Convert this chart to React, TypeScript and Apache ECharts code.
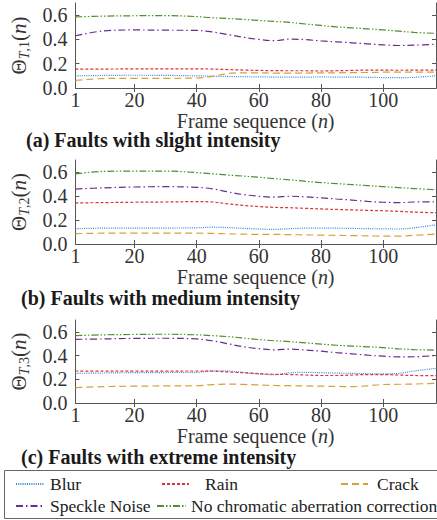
import React, { useEffect, useRef } from "react";
import * as echarts from "echarts";

const frames = [1, 10, 20, 30, 40, 45, 50, 55, 60, 65, 70, 75, 80, 85, 90, 95, 100, 105, 110, 117];

const seriesNames = ["Blur", "Rain", "Crack", "Speckle Noise", "No chromatic aberration correction"];

// (a) slight intensity
const blurA = [0.1, 0.103, 0.105, 0.104, 0.1, 0.097, 0.095, 0.093, 0.092, 0.09, 0.09, 0.09, 0.091, 0.09, 0.09, 0.088, 0.086, 0.085, 0.088, 0.1];
const rainA = [0.155, 0.156, 0.157, 0.157, 0.157, 0.156, 0.152, 0.148, 0.145, 0.143, 0.142, 0.142, 0.14, 0.142, 0.145, 0.147, 0.147, 0.146, 0.147, 0.148];
const crackA = [0.063, 0.078, 0.08, 0.08, 0.082, 0.095, 0.12, 0.125, 0.125, 0.123, 0.123, 0.123, 0.125, 0.125, 0.127, 0.128, 0.13, 0.13, 0.13, 0.13];
const speckleA = [0.43, 0.47, 0.478, 0.476, 0.474, 0.462, 0.44, 0.418, 0.4, 0.39, 0.403, 0.398, 0.388, 0.38, 0.372, 0.363, 0.355, 0.35, 0.353, 0.36];
const nocorrA = [0.585, 0.592, 0.595, 0.596, 0.588, 0.578, 0.572, 0.565, 0.556, 0.548, 0.54, 0.527, 0.515, 0.503, 0.495, 0.487, 0.478, 0.468, 0.458, 0.45];

// (b) medium intensity
const blurB = [0.128, 0.132, 0.133, 0.133, 0.135, 0.14, 0.137, 0.13, 0.125, 0.122, 0.128, 0.132, 0.133, 0.132, 0.13, 0.128, 0.126, 0.125, 0.135, 0.16];
const rainB = [0.342, 0.345, 0.348, 0.35, 0.353, 0.35, 0.335, 0.322, 0.312, 0.305, 0.302, 0.297, 0.292, 0.288, 0.284, 0.28, 0.277, 0.272, 0.266, 0.26];
const crackB = [0.086, 0.09, 0.09, 0.09, 0.09, 0.088, 0.085, 0.082, 0.08, 0.08, 0.078, 0.076, 0.074, 0.072, 0.07, 0.068, 0.066, 0.066, 0.072, 0.083];
const speckleB = [0.458, 0.468, 0.475, 0.478, 0.472, 0.46, 0.435, 0.412, 0.398, 0.39, 0.398, 0.393, 0.385, 0.375, 0.366, 0.355, 0.348, 0.345, 0.35, 0.352];
const nocorrB = [0.585, 0.605, 0.608, 0.608, 0.595, 0.585, 0.575, 0.566, 0.556, 0.545, 0.535, 0.522, 0.512, 0.503, 0.495, 0.487, 0.478, 0.47, 0.462, 0.452];

// (c) extreme intensity
const blurC = [0.25, 0.253, 0.256, 0.257, 0.258, 0.272, 0.27, 0.258, 0.245, 0.238, 0.255, 0.258, 0.256, 0.252, 0.25, 0.247, 0.245, 0.25, 0.27, 0.292];
const rainC = [0.27, 0.268, 0.268, 0.269, 0.27, 0.268, 0.262, 0.255, 0.248, 0.242, 0.24, 0.236, 0.232, 0.232, 0.236, 0.24, 0.24, 0.236, 0.232, 0.23];
const crackC = [0.13, 0.138, 0.142, 0.144, 0.146, 0.155, 0.16, 0.157, 0.152, 0.148, 0.146, 0.144, 0.142, 0.14, 0.138, 0.145, 0.156, 0.158, 0.16, 0.166];
const speckleC = [0.537, 0.54, 0.545, 0.546, 0.54, 0.525, 0.5, 0.475, 0.458, 0.448, 0.455, 0.447, 0.437, 0.425, 0.415, 0.403, 0.395, 0.389, 0.39, 0.4];
const nocorrC = [0.568, 0.575, 0.578, 0.58, 0.575, 0.568, 0.56, 0.548, 0.535, 0.525, 0.518, 0.507, 0.497, 0.487, 0.48, 0.474, 0.467, 0.457, 0.45, 0.446];

const panels = [
  [blurA, rainA, crackA, speckleA, nocorrA],
  [blurB, rainB, crackB, speckleB, nocorrB],
  [blurC, rainC, crackC, speckleC, nocorrC],
];
const panelTitles = [
  "(a) Faults with slight intensity",
  "(b) Faults with medium intensity",
  "(c) Faults with extreme intensity",
];
const panelIndex = ["1", "2", "3"];

const xLabelValues = [1, 20, 40, 60, 80, 100];
const xTickValues = [20, 40, 60, 80, 100];
const yLabelValues = [0, 0.2, 0.4, 0.6];
const yTickValues = [0.2, 0.4, 0.6];

const colors = ["#2f86d6", "#e0323a", "#d6a236", "#6a2c93", "#4f8f2e"];
const dashes: number[][] = [
  [1, 1.2],
  [3, 2],
  [7, 4],
  [7, 3, 1.5, 3],
  [7, 2, 1.5, 2, 1.5, 2],
];

const FONT = "'Liberation Serif', 'Times New Roman', serif";
const AXIS_COLOR = "#555";
const TEXT_COLOR = "#333";

const grids = [
  { left: 70, top: 3, width: 366, height: 85 },
  { left: 70, top: 160, width: 366, height: 84 },
  { left: 70, top: 320, width: 366, height: 83 },
];
const titleTops = [130, 288, 447];
const titleLefts = [26, 21, 21];

const tickRich = { t: { fontSize: 20, fontFamily: FONT, color: TEXT_COLOR } };

export default function App() {
  const ref = useRef<HTMLDivElement>(null);
  useEffect(() => {
    if (!ref.current) return;
    const chart = echarts.init(ref.current, null, { renderer: "svg" });

    const xAxes: any[] = [];
    const yAxes: any[] = [];
    const series: any[] = [];
    grids.forEach((g, gi) => {
      xAxes.push({
        type: "value",
        gridIndex: gi,
        position: "bottom",
        min: 1,
        max: 117,
        axisLine: { show: true, lineStyle: { color: AXIS_COLOR, width: 1 } },
        axisTick: { show: true, inside: true, length: 4, customValues: xTickValues, lineStyle: { color: AXIS_COLOR } },
        axisLabel: {
          show: true,
          customValues: xLabelValues,
          margin: 2,
          fontSize: 20,
          fontFamily: FONT,
          color: TEXT_COLOR,
          formatter: (v: number) => `{t|${v}}`,
          rich: tickRich,
        },
        splitLine: { show: false },
        name: "{a|Frame sequence (}{i|n}{a|)}",
        nameLocation: "middle",
        nameGap: 15,
        nameTextStyle: {
          fontFamily: FONT,
          rich: {
            a: { fontSize: 20, fontFamily: FONT, color: TEXT_COLOR },
            i: { fontSize: 20, fontFamily: FONT, fontStyle: "italic", color: TEXT_COLOR },
          },
        },
      });
      xAxes.push({
        type: "value",
        gridIndex: gi,
        position: "top",
        min: 1,
        max: 117,
        axisLine: { show: true, lineStyle: { color: AXIS_COLOR, width: 1 } },
        axisTick: { show: true, inside: true, length: 4, customValues: xTickValues, lineStyle: { color: AXIS_COLOR } },
        axisLabel: { show: false },
        splitLine: { show: false },
      });
      yAxes.push({
        type: "value",
        gridIndex: gi,
        position: "left",
        min: 0,
        max: 0.7,
        axisLine: { show: true, lineStyle: { color: AXIS_COLOR, width: 1 } },
        axisTick: { show: true, inside: true, length: 4, customValues: yTickValues, lineStyle: { color: AXIS_COLOR } },
        axisLabel: {
          show: true,
          customValues: yLabelValues,
          margin: 8,
          fontSize: 20,
          fontFamily: FONT,
          color: TEXT_COLOR,
          formatter: (v: number) => `{t|${v.toFixed(1)}}`,
          rich: tickRich,
        },
        splitLine: { show: false },
        name: `{a|Θ}{s|T}{c|,${panelIndex[gi]}}{a|(}{i|n}{a|)}`,
        nameLocation: "middle",
        nameRotate: 90,
        nameGap: 36,
        nameTextStyle: {
          fontFamily: FONT,
          rich: {
            a: { fontSize: 21, fontFamily: FONT, color: TEXT_COLOR, lineHeight: 26, verticalAlign: "middle" },
            i: { fontSize: 21, fontFamily: FONT, fontStyle: "italic", color: TEXT_COLOR, lineHeight: 26, verticalAlign: "middle" },
            s: { fontSize: 14, fontFamily: FONT, fontStyle: "italic", color: TEXT_COLOR, lineHeight: 14, verticalAlign: "bottom" },
            c: { fontSize: 14, fontFamily: FONT, color: TEXT_COLOR, lineHeight: 14, verticalAlign: "bottom" },
          },
        },
      });
      yAxes.push({
        type: "value",
        gridIndex: gi,
        position: "right",
        min: 0,
        max: 0.7,
        axisLine: { show: true, lineStyle: { color: AXIS_COLOR, width: 1 } },
        axisTick: { show: true, inside: true, length: 4, customValues: yTickValues, lineStyle: { color: AXIS_COLOR } },
        axisLabel: { show: false },
        splitLine: { show: false },
      });
      panels[gi].forEach((vals, si) => {
        series.push({
          type: "line",
          name: seriesNames[si],
          xAxisIndex: gi * 2,
          yAxisIndex: gi * 2,
          data: frames.map((f, k) => [f, vals[k]]),
          symbol: "none",
          smooth: 0.35,
          lineStyle: { color: colors[si], width: 1.2, type: dashes[si] },
          itemStyle: { color: colors[si] },
          z: 2 + si,
        });
      });
    });

    const legendRich = (padLeft: number) => ({
      t: { fontSize: 17.5, fontFamily: FONT, color: "#222", padding: [0, 0, 0, padLeft] },
    });
    const legendBase = {
      orient: "horizontal",
      itemHeight: 10,
      itemGap: 0,
      padding: 0,
      selectedMode: false,
      itemStyle: { opacity: 0 },
      formatter: (name: string) => `{t|${name}}`,
    };
    const legends = [
      { ...legendBase, data: ["Blur"], left: 15, top: 475, itemWidth: 28, textStyle: { fontFamily: FONT, rich: legendRich(1) } },
      { ...legendBase, data: ["Rain"], left: 161, top: 475, itemWidth: 27, textStyle: { fontFamily: FONT, rich: legendRich(11) } },
      { ...legendBase, data: ["Crack"], left: 340, top: 475, itemWidth: 27, textStyle: { fontFamily: FONT, rich: legendRich(4) } },
      { ...legendBase, data: ["Speckle Noise"], left: 15, top: 497, itemWidth: 28, textStyle: { fontFamily: FONT, rich: legendRich(1) } },
      { ...legendBase, data: ["No chromatic aberration correction"], left: 156, top: 497, itemWidth: 29, textStyle: { fontFamily: FONT, rich: legendRich(0) } },
    ];

    chart.setOption({
      animation: false,
      textStyle: { fontFamily: FONT },
      grid: grids.map((g) => ({ ...g, containLabel: false })),
      xAxis: xAxes,
      yAxis: yAxes,
      series,
      legend: legends,
      title: panelTitles.map((t, i) => ({
        text: t,
        left: titleLefts[i],
        top: titleTops[i],
        padding: 0,
        textStyle: { fontSize: 20, fontWeight: "bold", fontFamily: FONT, color: "#1a1a1a", lineHeight: 20 },
      })),
      graphic: [
        {
          type: "rect",
          shape: { x: 4.5, y: 470.5, width: 440, height: 48 },
          style: { fill: "none", stroke: "#666", lineWidth: 1 },
          silent: true,
        },
      ],
    });
    return () => chart.dispose();
  }, []);
  return (
    <div
      ref={ref}
      style={{ position: "fixed", left: 0, top: 0, width: 437, height: 520, background: "#fff" }}
    />
  );
}
